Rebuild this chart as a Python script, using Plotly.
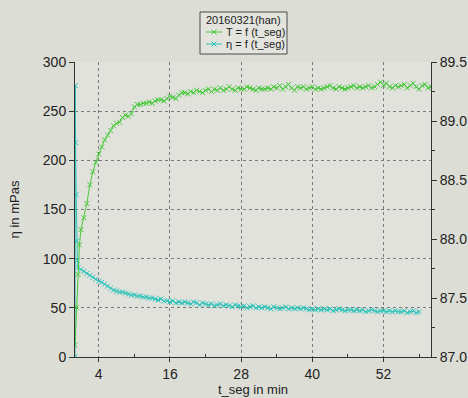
import plotly.graph_objects as go

# ---- data ----
t_T = [0, 0.25, 0.5, 0.75, 1.0] + [1.5 + 0.5 * i for i in range(118)]
T_degC = [87.10, 87.42, 87.70, 87.95, 88.08,
          88.18, 88.30, 88.46, 88.57, 88.65, 88.72, 88.78, 88.84, 88.88, 88.92,
          88.96, 88.98, 88.99, 89.03, 89.05, 89.04, 89.06, 89.12, 89.14, 89.14,
          89.15, 89.15, 89.16, 89.15, 89.17, 89.18, 89.18, 89.17, 89.19, 89.21,
          89.20, 89.19, 89.22, 89.24, 89.24, 89.23, 89.25, 89.24, 89.26, 89.25,
          89.24, 89.26, 89.27, 89.25, 89.27, 89.26, 89.28, 89.26, 89.27, 89.29,
          89.27, 89.26, 89.28, 89.27, 89.27, 89.29, 89.28, 89.27, 89.26, 89.28,
          89.27, 89.27, 89.28, 89.27, 89.29, 89.28, 89.30, 89.27, 89.29, 89.31,
          89.28, 89.26, 89.29, 89.28, 89.29, 89.27, 89.28, 89.29, 89.27, 89.28,
          89.27, 89.28, 89.29, 89.30, 89.28, 89.27, 89.29, 89.28, 89.27, 89.28,
          89.29, 89.30, 89.28, 89.29, 89.28, 89.29, 89.30, 89.28, 89.29, 89.31,
          89.33, 89.30, 89.32, 89.29, 89.28, 89.30, 89.29, 89.30, 89.31, 89.28,
          89.30, 89.32, 89.29, 89.27, 89.30, 89.31, 89.28, 89.29]

t_eta = [0, 0.05, 0.1, 0.2, 0.3, 0.4] + [0.5 + 0.5 * i for i in range(120)]
eta_mPas = [0, 276, 218, 165, 118, 98,
            91, 89, 87, 85, 83, 81, 79, 77, 76, 74,
            72, 70, 68, 67, 66, 66, 65, 64, 63, 63,
            62, 62, 61, 61, 60, 60, 59, 58, 59, 57,
            57, 56, 57, 55, 56, 55, 56, 55, 54, 56,
            55, 53, 55, 54, 53, 54, 52, 53, 54, 52,
            53, 52, 51, 53, 52, 51, 52, 50, 51, 52,
            50, 51, 50, 51, 50, 49, 51, 50, 49, 50,
            51, 49, 50, 49, 50, 49, 50, 49, 48, 49,
            48, 49, 48, 49, 48, 49, 47, 48, 49, 48,
            47, 48, 48, 47, 48, 47, 48, 46, 47, 48,
            47, 46, 47, 47, 46, 47, 46, 47, 46, 46,
            47, 45, 46, 47, 45, 46]

x_ticks = [4, 16, 28, 40, 52]
left_ticks = [0, 50, 100, 150, 200, 250, 300]
right_ticks = [87.0, 87.5, 88.0, 88.5, 89.0, 89.5]
right_labels = ["87.0", "87.5", "88.0", "88.5", "89.0", "89.5"]
legend_title = "20160321(han)"
series_names = ["T = f (t_seg)", "η = f (t_seg)"]

GREEN = "#48c83c"
CYAN = "#2ec4bc"
AX = "#333333"
GRID = "#7a7a7a"
FONT = "Liberation Sans"

W, H = 468, 398
ML, MR, MT, MB = 75, 37, 62, 41
PW, PH = W - ML - MR, H - MT - MB


def px(x):
    return (x - ML) / PW


def py(y):
    return (H - MB - y) / PH


fig = go.Figure()
fig.add_trace(go.Scatter(
    x=t_T, y=T_degC, name=series_names[0], yaxis="y2", mode="lines+markers",
    line=dict(color=GREEN, width=1),
    marker=dict(symbol="x-thin", size=5, line=dict(width=1, color=GREEN), color=GREEN)))
fig.add_trace(go.Scatter(
    x=t_eta, y=eta_mPas, name=series_names[1], yaxis="y", mode="lines+markers",
    line=dict(color=CYAN, width=1),
    marker=dict(symbol="x-thin", size=5, line=dict(width=1, color=CYAN), color=CYAN)))

# ---- compact legend box (drawn manually) ----
shapes = [dict(type="rect", xref="paper", yref="paper",
               x0=px(200), x1=px(287), y0=py(54), y1=py(12),
               fillcolor="#e3e4dd", line=dict(color="#4a4a4a", width=1), layer="above")]
annotations = [dict(text=legend_title, xref="paper", yref="paper", x=px(204), y=py(20),
                    xanchor="left", yanchor="middle", showarrow=False,
                    font=dict(family=FONT, size=11, color="#222222"))]
for name, col, yy in [(series_names[0], GREEN, 32), (series_names[1], CYAN, 44)]:
    shapes.append(dict(type="line", xref="paper", yref="paper",
                       x0=px(206), x1=px(222), y0=py(yy), y1=py(yy),
                       line=dict(color=col, width=1), layer="above"))
    cx = 214
    shapes.append(dict(type="line", xref="paper", yref="paper",
                       x0=px(cx - 2.5), x1=px(cx + 2.5), y0=py(yy - 2.5), y1=py(yy + 2.5),
                       line=dict(color=col, width=1), layer="above"))
    shapes.append(dict(type="line", xref="paper", yref="paper",
                       x0=px(cx - 2.5), x1=px(cx + 2.5), y0=py(yy + 2.5), y1=py(yy - 2.5),
                       line=dict(color=col, width=1), layer="above"))
    annotations.append(dict(text=name, xref="paper", yref="paper", x=px(224), y=py(yy),
                            xanchor="left", yanchor="middle", showarrow=False,
                            font=dict(family=FONT, size=11, color="#222222")))

fig.update_layout(
    width=W, height=H,
    margin=dict(l=ML, r=MR, t=MT, b=MB),
    paper_bgcolor="#dcddd5", plot_bgcolor="#e1e2db",
    font=dict(family=FONT, size=14, color="#222222"),
    showlegend=False,
    shapes=shapes, annotations=annotations,
    xaxis=dict(
        range=[0, 60], tickvals=x_ticks, ticktext=[str(v) for v in x_ticks],
        automargin=False,
        showline=True, linecolor=AX, linewidth=1, ticks="outside", ticklen=4, tickcolor=AX,
        showgrid=True, gridcolor=GRID, griddash="3px,3px", gridwidth=1,
        zeroline=False,
        minor=dict(tickvals=[10, 22, 34, 46, 58], ticks="inside", ticklen=3, tickcolor=AX, showgrid=False),
        title=dict(text="t_seg in min", standoff=2, font=dict(size=13))),
    yaxis=dict(
        range=[0, 300], tickvals=left_ticks, automargin=False,
        showline=True, linecolor=AX, linewidth=1, ticks="outside", ticklen=5, tickcolor=AX,
        showgrid=True, gridcolor=GRID, griddash="3px,3px", gridwidth=1,
        zeroline=False,
        title=dict(text="η in mPas", standoff=20, font=dict(size=13))),
    yaxis2=dict(
        range=[87.0, 89.5], tickvals=right_ticks, ticktext=right_labels,
        overlaying="y", side="right", automargin=False,
        showline=True, linecolor=AX, linewidth=1, ticks="outside", ticklen=5, tickcolor=AX,
        showgrid=False, zeroline=False,
        minor=dict(tickvals=[87.25, 87.75, 88.25, 88.75, 89.25], ticks="outside", ticklen=3, tickcolor=AX)),
)

fig.write_html("out.html")
